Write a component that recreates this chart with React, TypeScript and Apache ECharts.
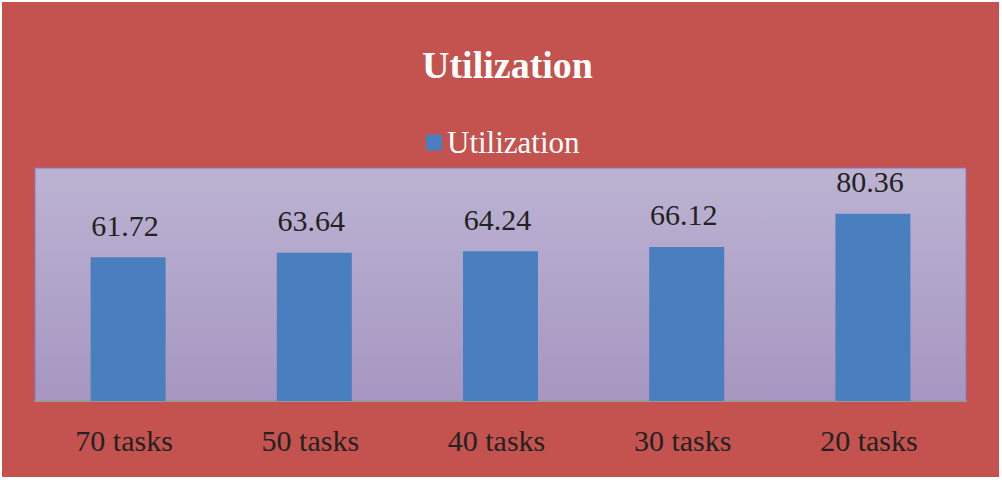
import React, { useEffect, useRef } from "react";
import * as echarts from "echarts";

const categories = ["70 tasks", "50 tasks", "40 tasks", "30 tasks", "20 tasks"];
const utilization = [61.72, 63.64, 64.24, 66.12, 80.36];
const seriesName = "Utilization";
const titleText = "Utilization";

export default function App() {
  const ref = useRef<HTMLDivElement>(null);
  useEffect(() => {
    if (!ref.current) return;
    const chart = echarts.init(ref.current, null, { renderer: "svg" });
    const serif = "Liberation Serif";
    chart.setOption({
      animation: false,
      backgroundColor: "#ffffff",
      graphic: [
        {
          type: "rect",
          z: -10,
          silent: true,
          shape: { x: 2, y: 2, width: 997, height: 475 },
          style: { fill: "#C4524E" },
        },
      ],
      title: {
        text: titleText,
        left: 417,
        top: 41,
        textStyle: { color: "#ffffff", fontFamily: serif, fontWeight: "bold", fontSize: 38 },
      },
      legend: {
        top: 122,
        left: 421,
        itemWidth: 16,
        itemHeight: 16,
        itemGap: 10,
        icon: "rect",
        textStyle: { color: "#ffffff", fontFamily: serif, fontSize: 31 },
        data: [seriesName],
      },
      grid: {
        left: 35,
        top: 168,
        width: 931,
        height: 233,
        show: true,
        borderColor: "#8878BE",
        borderWidth: 1,
        backgroundColor: {
          type: "linear",
          x: 0, y: 0, x2: 0, y2: 1,
          colorStops: [
            { offset: 0, color: "#BCB3D2" },
            { offset: 1, color: "#A696C1" },
          ],
        },
      },
      xAxis: {
        type: "category",
        data: categories,
        axisLine: { show: true, lineStyle: { color: "#9A9A9A", width: 2 } },
        axisTick: { show: false },
        axisLabel: { color: "#222222", fontFamily: serif, fontSize: 30, margin: 24, padding: [0, 8, 0, 0] },
      },
      yAxis: {
        type: "value",
        min: 0,
        max: 100,
        show: false,
        splitLine: { show: false },
      },
      series: [
        {
          name: seriesName,
          type: "bar",
          data: utilization,
          barWidth: 75,
          itemStyle: { color: "#4A7FBF" },
          label: {
            show: true,
            position: "top",
            distance: 17,
            offset: [-3, 0],
            color: "#222222",
            fontFamily: serif,
            fontSize: 30,
          },
        },
      ],
    });
    return () => chart.dispose();
  }, []);
  return (
    <div
      ref={ref}
      style={{ position: "fixed", left: 0, top: 0, width: 1002, height: 480 }}
    />
  );
}
